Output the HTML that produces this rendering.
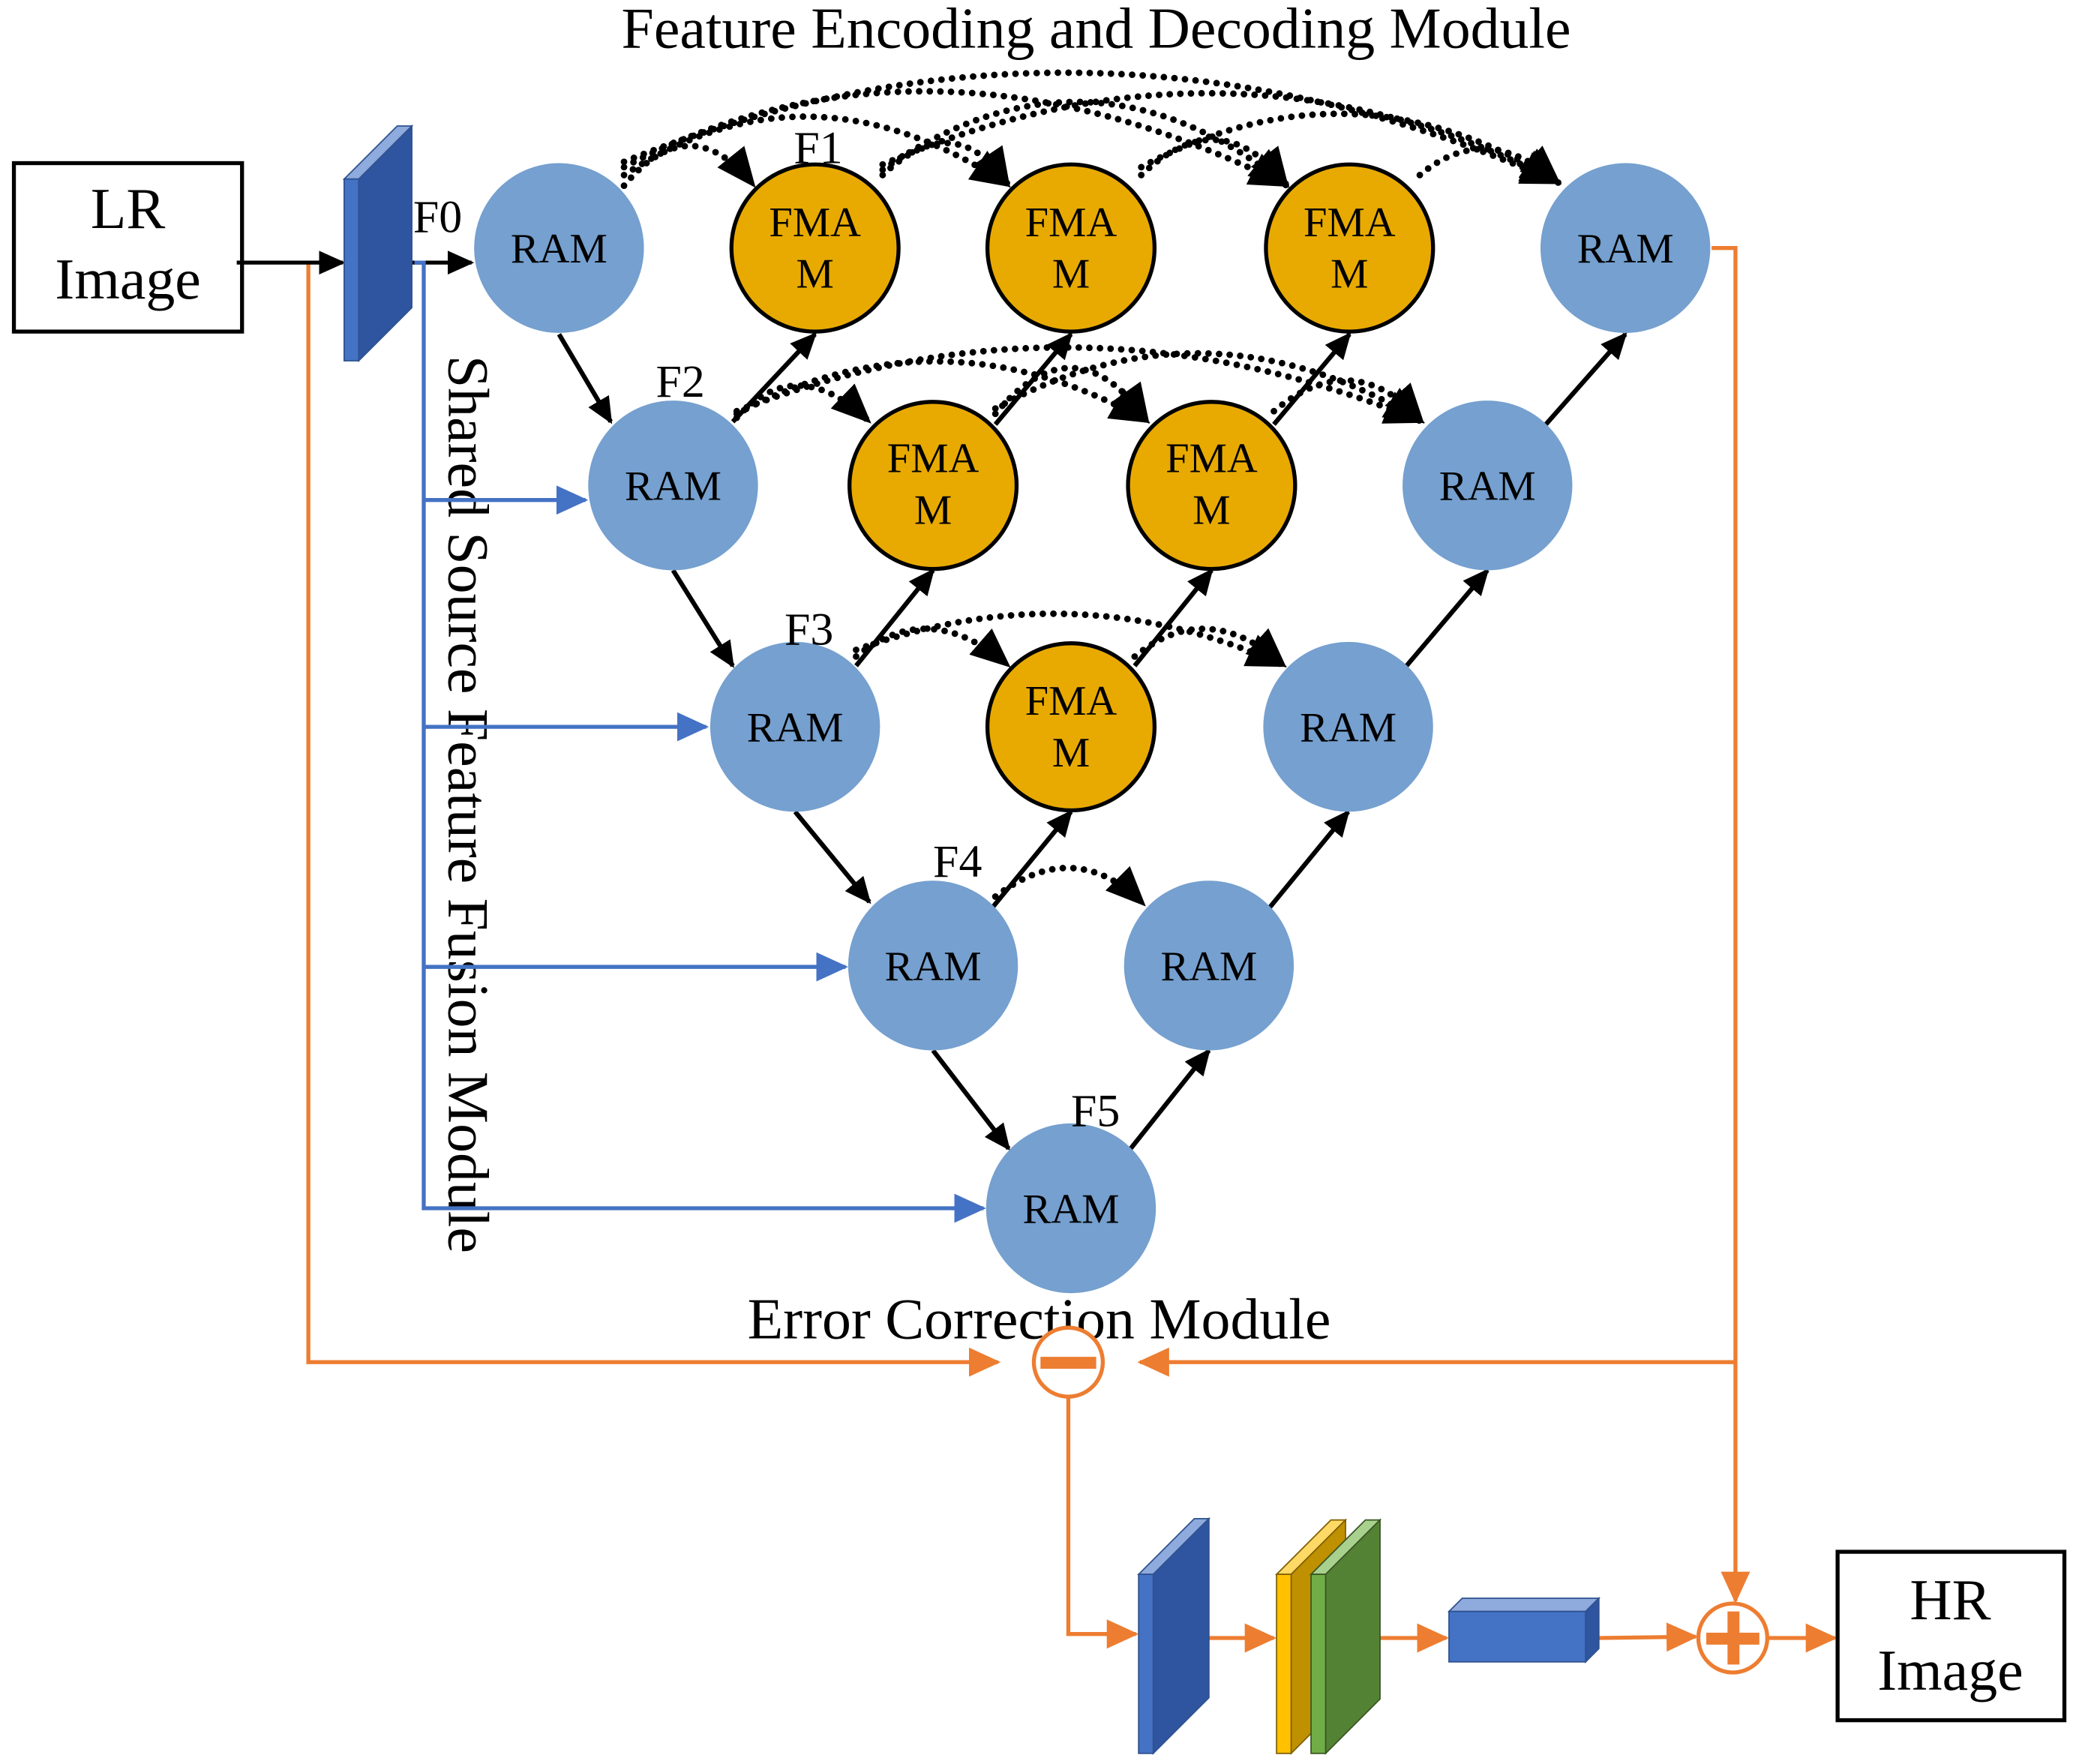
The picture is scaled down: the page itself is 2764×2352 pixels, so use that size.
<!DOCTYPE html>
<html><head><meta charset="utf-8"><style>
html,body{margin:0;padding:0;background:#fff}
svg{display:block}
text{font-family:"Liberation Serif",serif;fill:#000}
</style></head><body>
<svg width="2764" height="2352" viewBox="0 0 1562 1330" xmlns="http://www.w3.org/2000/svg">
<defs>
<marker id="abk" markerWidth="20" markerHeight="18" refX="18" refY="9" orient="auto" markerUnits="userSpaceOnUse"><path d="M0,0 L20,9 L0,18 z" fill="#000"/></marker>
<marker id="abl" markerWidth="24" markerHeight="22" refX="22" refY="11" orient="auto" markerUnits="userSpaceOnUse"><path d="M0,0 L24,11 L0,22 z" fill="#4472c4"/></marker>
<marker id="aor" markerWidth="24" markerHeight="22" refX="22" refY="11" orient="auto" markerUnits="userSpaceOnUse"><path d="M0,0 L24,11 L0,22 z" fill="#ed7d31"/></marker>
<marker id="adt" markerWidth="30" markerHeight="26" refX="28" refY="13" orient="auto" markerUnits="userSpaceOnUse"><path d="M0,0 L30,13 L0,26 z" fill="#000"/></marker>
</defs>

<text x="826" y="36" font-size="44" text-anchor="middle">Feature Encoding and Decoding Module</text>
<text x="783" y="1009" font-size="44" text-anchor="middle">Error Correction Module</text>
<text x="0" y="0" font-size="44" transform="translate(338,268) rotate(90)">Shared Source Feature Fusion Module</text>

<rect x="10" y="123" width="172" height="127" fill="#fff" stroke="#000" stroke-width="3"/>
<text x="96" y="172" font-size="44" text-anchor="middle">LR</text>
<text x="96" y="225" font-size="44" text-anchor="middle">Image</text>

<g stroke="#ed7d31" stroke-width="3" fill="none">
<polyline points="232,198 232,1027 752,1027" marker-end="url(#aor)"/>
<polyline points="1290,187 1308,187 1308,1207" marker-end="url(#aor)"/>
<polyline points="1308,1027 859,1027" marker-end="url(#aor)"/>
<polyline points="805,1053 805,1232 856,1232" marker-end="url(#aor)"/>
<line x1="910" y1="1235" x2="960" y2="1235" marker-end="url(#aor)"/>
<line x1="1040" y1="1235" x2="1090" y2="1235" marker-end="url(#aor)"/>
<line x1="1205" y1="1235" x2="1278" y2="1234" marker-end="url(#aor)"/>
<line x1="1332" y1="1235" x2="1383" y2="1235" marker-end="url(#aor)"/>
<circle cx="805" cy="1027" r="26" fill="#fff"/>
<circle cx="1306" cy="1235" r="26" fill="#fff"/>
</g>
<rect x="784" y="1023" width="42" height="9" fill="#ed7d31"/>
<rect x="1286" y="1231" width="40" height="9" fill="#ed7d31"/>
<rect x="1302" y="1215" width="9" height="40" fill="#ed7d31"/>

<line x1="178" y1="198" x2="258" y2="198" stroke="#000" stroke-width="3" marker-end="url(#abk)"/>
<line x1="310" y1="198" x2="355" y2="198" stroke="#000" stroke-width="3" marker-end="url(#abk)"/>

<polygon points="259,135 270,135 310,95 299,95" fill="#8faadc" stroke="#2f528f" stroke-width="1"/>
<polygon points="270,135 310,95 310,232 270,272" fill="#2f55a0" stroke="#2f528f" stroke-width="1"/>
<rect x="259" y="135" width="11" height="137" fill="#4472c4" stroke="#2f528f" stroke-width="1"/>

<g stroke="#4472c4" stroke-width="3" fill="none">
<polyline points="312,198 319,198 319,911 741,911" marker-end="url(#abl)"/>
<line x1="319" y1="377" x2="441" y2="377" marker-end="url(#abl)"/>
<line x1="319" y1="548" x2="532" y2="548" marker-end="url(#abl)"/>
<line x1="319" y1="729" x2="637" y2="729" marker-end="url(#abl)"/>
</g>
<text x="311" y="175" font-size="35">F0</text>

<g stroke="#000" stroke-width="5" stroke-dasharray="0,8" fill="none" stroke-linecap="round">
<path d="M470,140 Q520,80 568,140" marker-end="url(#adt)"/>
<path d="M470,132 Q610,40 760,140" marker-end="url(#adt)"/>
<path d="M470,126 Q700,5 970,140" marker-end="url(#adt)"/>
<path d="M470,122 Q820,-20 1175,138" marker-end="url(#adt)"/>
<path d="M665,132 Q720,80 760,140" marker-end="url(#adt)"/>
<path d="M665,128 Q820,20 970,140" marker-end="url(#adt)"/>
<path d="M665,124 Q930,10 1175,138" marker-end="url(#adt)"/>
<path d="M860,132 Q920,75 970,140" marker-end="url(#adt)"/>
<path d="M860,126 Q1020,40 1175,138" marker-end="url(#adt)"/>
<path d="M1070,132 Q1120,90 1175,138" marker-end="url(#adt)"/>
<path d="M555,315 Q600,265 655,318" marker-end="url(#adt)"/>
<path d="M555,312 Q710,230 865,318" marker-end="url(#adt)"/>
<path d="M555,310 Q810,210 1072,318" marker-end="url(#adt)"/>
<path d="M750,312 Q810,240 865,318" marker-end="url(#adt)"/>
<path d="M750,308 Q910,220 1072,318" marker-end="url(#adt)"/>
<path d="M960,310 Q1020,260 1072,318" marker-end="url(#adt)"/>
<path d="M645,495 Q700,450 760,502" marker-end="url(#adt)"/>
<path d="M645,490 Q810,430 968,502" marker-end="url(#adt)"/>
<path d="M855,495 Q910,450 968,502" marker-end="url(#adt)"/>
<path d="M750,676 Q810,630 862,682" marker-end="url(#adt)"/>
</g>

<g stroke="#000" stroke-width="3.5" fill="none">
<line x1="421" y1="252" x2="460" y2="318" marker-end="url(#abk)"/>
<line x1="507" y1="430" x2="552" y2="502" marker-end="url(#abk)"/>
<line x1="599" y1="612" x2="655" y2="680" marker-end="url(#abk)"/>
<line x1="703" y1="792" x2="760" y2="866" marker-end="url(#abk)"/>
<line x1="552" y1="318" x2="614" y2="252" marker-end="url(#abk)"/>
<line x1="645" y1="502" x2="703" y2="430" marker-end="url(#abk)"/>
<line x1="748" y1="684" x2="807" y2="612" marker-end="url(#abk)"/>
<line x1="852" y1="866" x2="911" y2="792" marker-end="url(#abk)"/>
<line x1="750" y1="320" x2="807" y2="252" marker-end="url(#abk)"/>
<line x1="960" y1="320" x2="1017" y2="252" marker-end="url(#abk)"/>
<line x1="855" y1="502" x2="913" y2="430" marker-end="url(#abk)"/>
<line x1="957" y1="684" x2="1016" y2="612" marker-end="url(#abk)"/>
<line x1="1060" y1="502" x2="1121" y2="430" marker-end="url(#abk)"/>
<line x1="1165" y1="320" x2="1225" y2="252" marker-end="url(#abk)"/>
</g>

<g fill="#75a0cf">
<circle cx="421" cy="187" r="64"/><circle cx="1225" cy="187" r="64"/>
<circle cx="507" cy="366" r="64"/><circle cx="1121" cy="366" r="64"/>
<circle cx="599" cy="548" r="64"/><circle cx="1016" cy="548" r="64"/>
<circle cx="703" cy="728" r="64"/><circle cx="911" cy="728" r="64"/>
<circle cx="807" cy="911" r="64"/>
</g>
<g fill="#e8aa00" stroke="#000" stroke-width="3">
<circle cx="614" cy="187" r="63"/><circle cx="807" cy="187" r="63"/><circle cx="1017" cy="187" r="63"/>
<circle cx="703" cy="366" r="63"/><circle cx="913" cy="366" r="63"/>
<circle cx="807" cy="548" r="63"/>
</g>
<g font-size="32" text-anchor="middle">
<text x="421" y="198">RAM</text><text x="1225" y="198">RAM</text>
<text x="507" y="377">RAM</text><text x="1121" y="377">RAM</text>
<text x="599" y="559">RAM</text><text x="1016" y="559">RAM</text>
<text x="703" y="739">RAM</text><text x="911" y="739">RAM</text>
<text x="807" y="922">RAM</text>
<text x="614" y="178">FMA</text><text x="614" y="217">M</text>
<text x="807" y="178">FMA</text><text x="807" y="217">M</text>
<text x="1017" y="178">FMA</text><text x="1017" y="217">M</text>
<text x="703" y="356">FMA</text><text x="703" y="395">M</text>
<text x="913" y="356">FMA</text><text x="913" y="395">M</text>
<text x="807" y="539">FMA</text><text x="807" y="578">M</text>
</g>
<g font-size="35">
<text x="598" y="123">F1</text><text x="494" y="299">F2</text>
<text x="591" y="486">F3</text><text x="703" y="661">F4</text><text x="807" y="849">F5</text>
</g>

<polygon points="858,1187 869,1187 911,1145 900,1145" fill="#8faadc" stroke="#2f528f"/>
<polygon points="869,1187 911,1145 911,1280 869,1322" fill="#2f55a0" stroke="#2f528f"/>
<rect x="858" y="1187" width="11" height="135" fill="#4472c4" stroke="#2f528f"/>

<polygon points="962,1187 973,1187 1014,1146 1003,1146" fill="#ffd966" stroke="#7f6000"/>
<polygon points="973,1187 1014,1146 1014,1281 973,1322" fill="#bf9000" stroke="#7f6000"/>
<rect x="962" y="1187" width="11" height="135" fill="#ffc000" stroke="#7f6000"/>

<polygon points="988,1187 999,1187 1040,1146 1029,1146" fill="#a9d18e" stroke="#385723"/>
<polygon points="999,1187 1040,1146 1040,1281 999,1322" fill="#548235" stroke="#385723"/>
<rect x="988" y="1187" width="11" height="135" fill="#70ad47" stroke="#385723"/>

<polygon points="1092,1215 1195,1215 1205,1205 1102,1205" fill="#8faadc" stroke="#2f528f"/>
<polygon points="1195,1215 1205,1205 1205,1243 1195,1253" fill="#2f55a0" stroke="#2f528f"/>
<rect x="1092" y="1215" width="103" height="38" fill="#4472c4" stroke="#2f528f"/>

<rect x="1385" y="1170" width="171" height="127" fill="#fff" stroke="#000" stroke-width="3"/>
<text x="1470" y="1221" font-size="44" text-anchor="middle">HR</text>
<text x="1470" y="1274" font-size="44" text-anchor="middle">Image</text>
</svg>
</body></html>
